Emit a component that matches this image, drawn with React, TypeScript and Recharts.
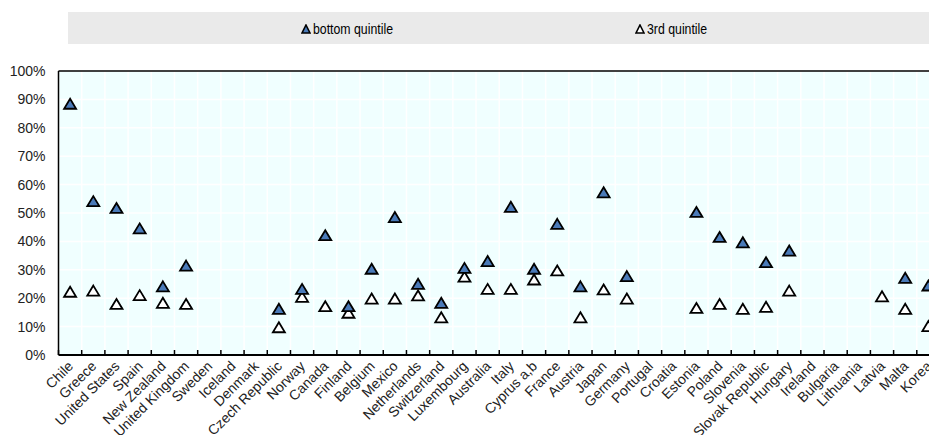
import React from 'react';
import { ScatterChart, Scatter, XAxis, YAxis, CartesianGrid, ReferenceLine } from 'recharts';

const countries = [
  'Chile', 'Greece', 'United States', 'Spain', 'New Zealand', 'United Kingdom', 'Sweden', 'Iceland',
  'Denmark', 'Czech Republic', 'Norway', 'Canada', 'Finland', 'Belgium', 'Mexico', 'Netherlands',
  'Switzerland', 'Luxembourg', 'Australia', 'Italy', 'Cyprus a,b', 'France', 'Austria', 'Japan',
  'Germany', 'Portugal', 'Croatia', 'Estonia', 'Poland', 'Slovenia', 'Slovak Republic', 'Hungary',
  'Ireland', 'Bulgaria', 'Lithuania', 'Latvia', 'Malta', 'Korea',
];

// share of people, % (null = not shown)
const bottomQuintile = [
  88.3, 54, 51.6, 44.4, 24, 31.3, null, null,
  null, 16.1, 23.1, 42, 17, 30.2, 48.4, 24.9,
  18.2, 30.5, 32.9, 52, 30.2, 46, 24, 57.1,
  27.6, null, null, 50.2, 41.4, 39.5, 32.5, 36.6,
  null, null, null, null, 27, 24.3,
];
const thirdQuintile = [
  22.1, 22.5, 17.8, 20.9, 18.2, 17.8, null, null,
  null, 9.6, 20.3, 17, 14.7, 19.7, 19.7, 20.8,
  13.1, 27.4, 23.1, 23.1, 26.4, 29.6, 13.1, 22.9,
  19.7, null, null, 16.4, 17.8, 16.1, 16.8, 22.5,
  null, null, null, 20.5, 16.1, 10,
];
const yTicks = [0, 10, 20, 30, 40, 50, 60, 70, 80, 90, 100];

const BLUE = '#4a7ab8';
const AXIS_FONT = "'Liberation Sans', Arial, sans-serif";

const toPoints = (values: (number | null)[]) =>
  values
    .map((v, i) => (v == null ? null : { x: i + 0.5, y: v }))
    .filter((p): p is { x: number; y: number } => p !== null);

// category centres carry the labels, category edges carry the tick marks
const boundaries = countries.map((_, i) => i).concat(countries.length);
const xTicks = countries.flatMap((_, i) => [i, i + 0.5]).concat(countries.length);

const Triangle = (props: any) => {
  const { cx, cy, fill } = props;
  if (cx == null || cy == null) return null;
  return (
    <polygon
      points={`${cx},${cy - 5.5} ${cx + 6},${cy + 4.5} ${cx - 6},${cy + 4.5}`}
      fill={fill}
      stroke="#000"
      strokeWidth={1.8}
      strokeLinejoin="miter"
    />
  );
};

const CountryTick = (props: any) => {
  const { x, y, payload } = props;
  const v = payload.value as number;
  if (Number.isInteger(v)) {
    return <line x1={x} x2={x} y1={y} y2={y - 5} stroke="#000" strokeWidth={1.5} />;
  }
  const name = countries[Math.floor(v)];
  const tx = x + 4;
  const ty = y + 12;
  return (
    <text
      x={tx}
      y={ty}
      transform={`rotate(-45, ${tx}, ${ty})`}
      textAnchor="end"
      fontSize={14}
      fontFamily={AXIS_FONT}
      fill="#222"
    >
      {name}
    </text>
  );
};

const LegendMark = ({ fill }: { fill: string }) => (
  <svg width={10} height={10} style={{ display: 'inline-block', verticalAlign: 'middle', marginRight: 2 }}>
    <polygon points="5,1 9,9 1,9" fill={fill} stroke="#000" strokeWidth={1.6} />
  </svg>
);

// narrow look of the original legend font
const LegendText = ({ children }: { children: React.ReactNode }) => (
  <span
    style={{
      display: 'inline-block',
      verticalAlign: 'middle',
      transform: 'scaleX(0.82)',
      transformOrigin: 'left center',
    }}
  >
    {children}
  </span>
);

export default function App() {
  return (
    <div
      style={{
        position: 'fixed',
        left: 0,
        top: 0,
        width: 929,
        height: 435,
        overflow: 'hidden',
        background: '#fff',
      }}
    >
      <div
        style={{
          position: 'absolute',
          left: 68,
          top: 12,
          width: 861,
          height: 32,
          background: '#eaeaea',
          fontFamily: AXIS_FONT,
          fontSize: 15,
          lineHeight: '18px',
          color: '#000',
        }}
      >
        <div style={{ position: 'absolute', left: 233, top: 7, whiteSpace: 'nowrap' }}>
          <LegendMark fill={BLUE} />
          <LegendText>bottom quintile</LegendText>
        </div>
        <div style={{ position: 'absolute', left: 567, top: 7, whiteSpace: 'nowrap' }}>
          <LegendMark fill="#fff" />
          <LegendText>3rd quintile</LegendText>
        </div>
      </div>
      <ScatterChart width={960} height={435} margin={{ top: 71, right: 20, bottom: 0, left: 0 }}>
        <CartesianGrid
          fill="#f0ffff"
          fillOpacity={1}
          stroke="#fff"
          strokeWidth={1.5}
          verticalValues={boundaries}
          horizontalValues={yTicks}
        />
        <XAxis
          type="number"
          dataKey="x"
          domain={[0, countries.length]}
          ticks={xTicks}
          interval={0}
          height={80}
          tickSize={0}
          tickMargin={0}
          tickLine={false}
          tick={<CountryTick />}
          axisLine={{ stroke: '#000', strokeWidth: 2 }}
          allowDataOverflow
        />
        <YAxis
          type="number"
          dataKey="y"
          domain={[0, 100]}
          ticks={yTicks}
          interval={0}
          width={58.5}
          tickSize={0}
          tickMargin={13}
          tickLine={false}
          tickFormatter={(v: number) => `${v}%`}
          tick={{ fontSize: 14, fontFamily: AXIS_FONT, fill: '#222' }}
          axisLine={{ stroke: '#000', strokeWidth: 1.5 }}
        />
        <ReferenceLine y={100} stroke="#000" strokeWidth={1.5} />
        <Scatter
          name="3rd quintile"
          data={toPoints(thirdQuintile)}
          fill="#fff"
          shape={<Triangle />}
          isAnimationActive={false}
        />
        <Scatter
          name="bottom quintile"
          data={toPoints(bottomQuintile)}
          fill={BLUE}
          shape={<Triangle />}
          isAnimationActive={false}
        />
      </ScatterChart>
    </div>
  );
}
